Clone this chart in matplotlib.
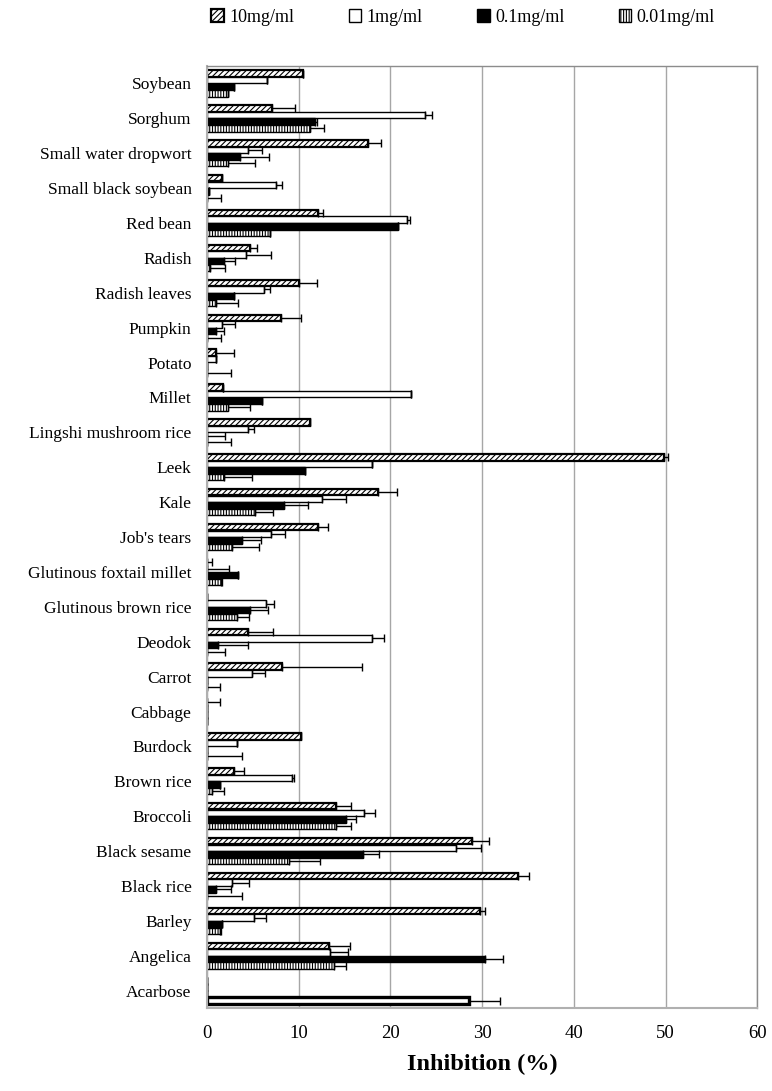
import numpy as np
import matplotlib.pyplot as plt

plt.rcParams['font.family'] = ['Liberation Serif', 'DejaVu Serif']
plt.rcParams['hatch.linewidth'] = 0.8

foods = ["Soybean", "Sorghum", "Small water dropwort", "Small black soybean",
         "Red bean", "Radish", "Radish leaves", "Pumpkin", "Potato", "Millet",
         "Lingshi mushroom rice", "Leek", "Kale", "Job's tears",
         "Glutinous foxtail millet", "Glutinous brown rice", "Deodok", "Carrot",
         "Cabbage", "Burdock", "Brown rice", "Broccoli", "Black sesame",
         "Black rice", "Barley", "Angelica", "Acarbose"]

conc = ["10mg/ml", "1mg/ml", "0.1mg/ml", "0.01mg/ml"]

inh_10 = [10.5, 7.1, 17.6, 1.7, 12.1, 4.75, 10.0, 8.1, 1.0, 1.75, 11.25, 49.8, 18.7,
          12.1, 0, 0, 4.5, 8.2, 0, 10.25, 2.9, 14.1, 28.9, 33.9, 29.8, 13.3, 0]
err_10 = [0, 2.5, 1.4, 0, 0.6, 0.75, 2.0, 2.2, 2.0, 0, 0, 0.5, 2.0,
          1.05, 0.6, 0, 2.75, 8.7, 1.4, 0, 1.1, 1.6, 1.9, 1.2, 0.5, 2.3, 0]

inh_1 = [6.6, 23.8, 4.5, 7.5, 21.8, 4.3, 6.2, 1.6, 1.0, 22.2, 4.5, 18.0, 12.6,
         7.0, 0, 6.45, 18.0, 4.9, 0, 3.25, 9.3, 17.1, 27.1, 2.7, 5.1, 13.45, 0]
err_1 = [0, 0.7, 1.5, 0.7, 0.3, 2.7, 0.7, 1.5, 0, 0, 0.6, 0, 2.6,
         1.5, 2.4, 0.9, 1.3, 1.4, 0, 0, 0.2, 1.2, 2.8, 1.9, 1.35, 1.95, 0]

inh_01 = [2.9, 11.8, 3.6, 0.2, 20.8, 1.9, 3.0, 1.0, 0, 6.0, 0, 10.7, 8.45,
          3.85, 3.4, 4.7, 1.2, 0, 0, 0, 1.45, 15.15, 17.0, 0.95, 1.6, 30.3, 0]
err_01 = [0, 0.2, 3.2, 0, 0, 1.2, 0, 0.9, 0, 0, 2.0, 0, 2.55,
          2.05, 0, 2.0, 3.3, 0, 0, 0, 0, 1.05, 1.8, 1.7, 0, 1.95, 0]

inh_001 = [2.3, 11.2, 2.3, 0, 6.9, 0.3, 0.95, 0, 0, 2.35, 0, 1.9, 5.2,
           2.75, 1.55, 3.25, 0, 0, 0, 0, 0.55, 14.1, 9.0, 0, 1.4, 13.9, 28.55]
err_001 = [0, 1.6, 2.9, 1.5, 0, 1.7, 2.45, 1.5, 2.6, 2.4, 2.6, 3.0, 2.05,
           2.95, 0.05, 1.35, 2.0, 1.4, 0, 3.8, 1.3, 1.6, 3.3, 3.8, 0.1, 1.3, 3.35]

series = [inh_10, inh_1, inh_01, inh_001]
errors = [err_10, err_1, err_01, err_001]
faces = ['white', 'white', 'black', 'white']
hatches = ['//////', None, None, '||||||']

fig = plt.figure(figsize=(7.72, 10.91), dpi=100)
ax = fig.add_axes([0.268, 0.076, 0.713, 0.8635])

y = np.arange(len(foods))
h = 0.185
for k in range(4):
    off = (k - 1.5) * 0.19
    xe = [np.zeros(len(foods)), np.array(errors[k])]
    bars = ax.barh(y + off, series[k], height=h, color=faces[k], edgecolor='black',
                   linewidth=1.0, hatch=hatches[k], label=conc[k],
                   xerr=xe, error_kw=dict(ecolor='black', elinewidth=1.0,
                                          capsize=3.2, capthick=1.0))
    if k == 0:
        for b in bars:
            b.set_linewidth(1.6)

# positive control drawn plain
acb = bars[foods.index("Acarbose")]
acb.set_hatch(None)
acb.set_linewidth(2.4)

ax.set_ylim(len(foods) - 0.5, -0.5)
ax.set_xlim(0, 60)
ax.set_xticks(range(0, 61, 10))
ax.set_yticks(y)
ax.set_yticklabels(foods, fontsize=12.5)
ax.tick_params(axis='x', labelsize=13.5, length=0, pad=12)
ax.tick_params(axis='y', length=0, pad=11)
ax.xaxis.grid(True, color='#a6a6a6', lw=1.0)
ax.set_axisbelow(True)
for s in ax.spines.values():
    s.set_color('#8c8c8c')
    s.set_linewidth(1.0)
ax.spines['bottom'].set_color('#b0b0b0')
ax.spines['bottom'].set_linewidth(1.5)
ax.spines['left'].set_color('#b0b0b0')
ax.spines['left'].set_linewidth(1.5)
ax.set_xlabel('Inhibition (%)', fontsize=17.5, fontweight='bold', labelpad=9)

fig.legend(loc='upper center', bbox_to_anchor=(0.6, 1.007), ncol=4, frameon=False,
           fontsize=13, handlelength=0.7, handleheight=0.7, handletextpad=0.3,
           columnspacing=3.0)

fig.savefig('out.png', dpi=100)
